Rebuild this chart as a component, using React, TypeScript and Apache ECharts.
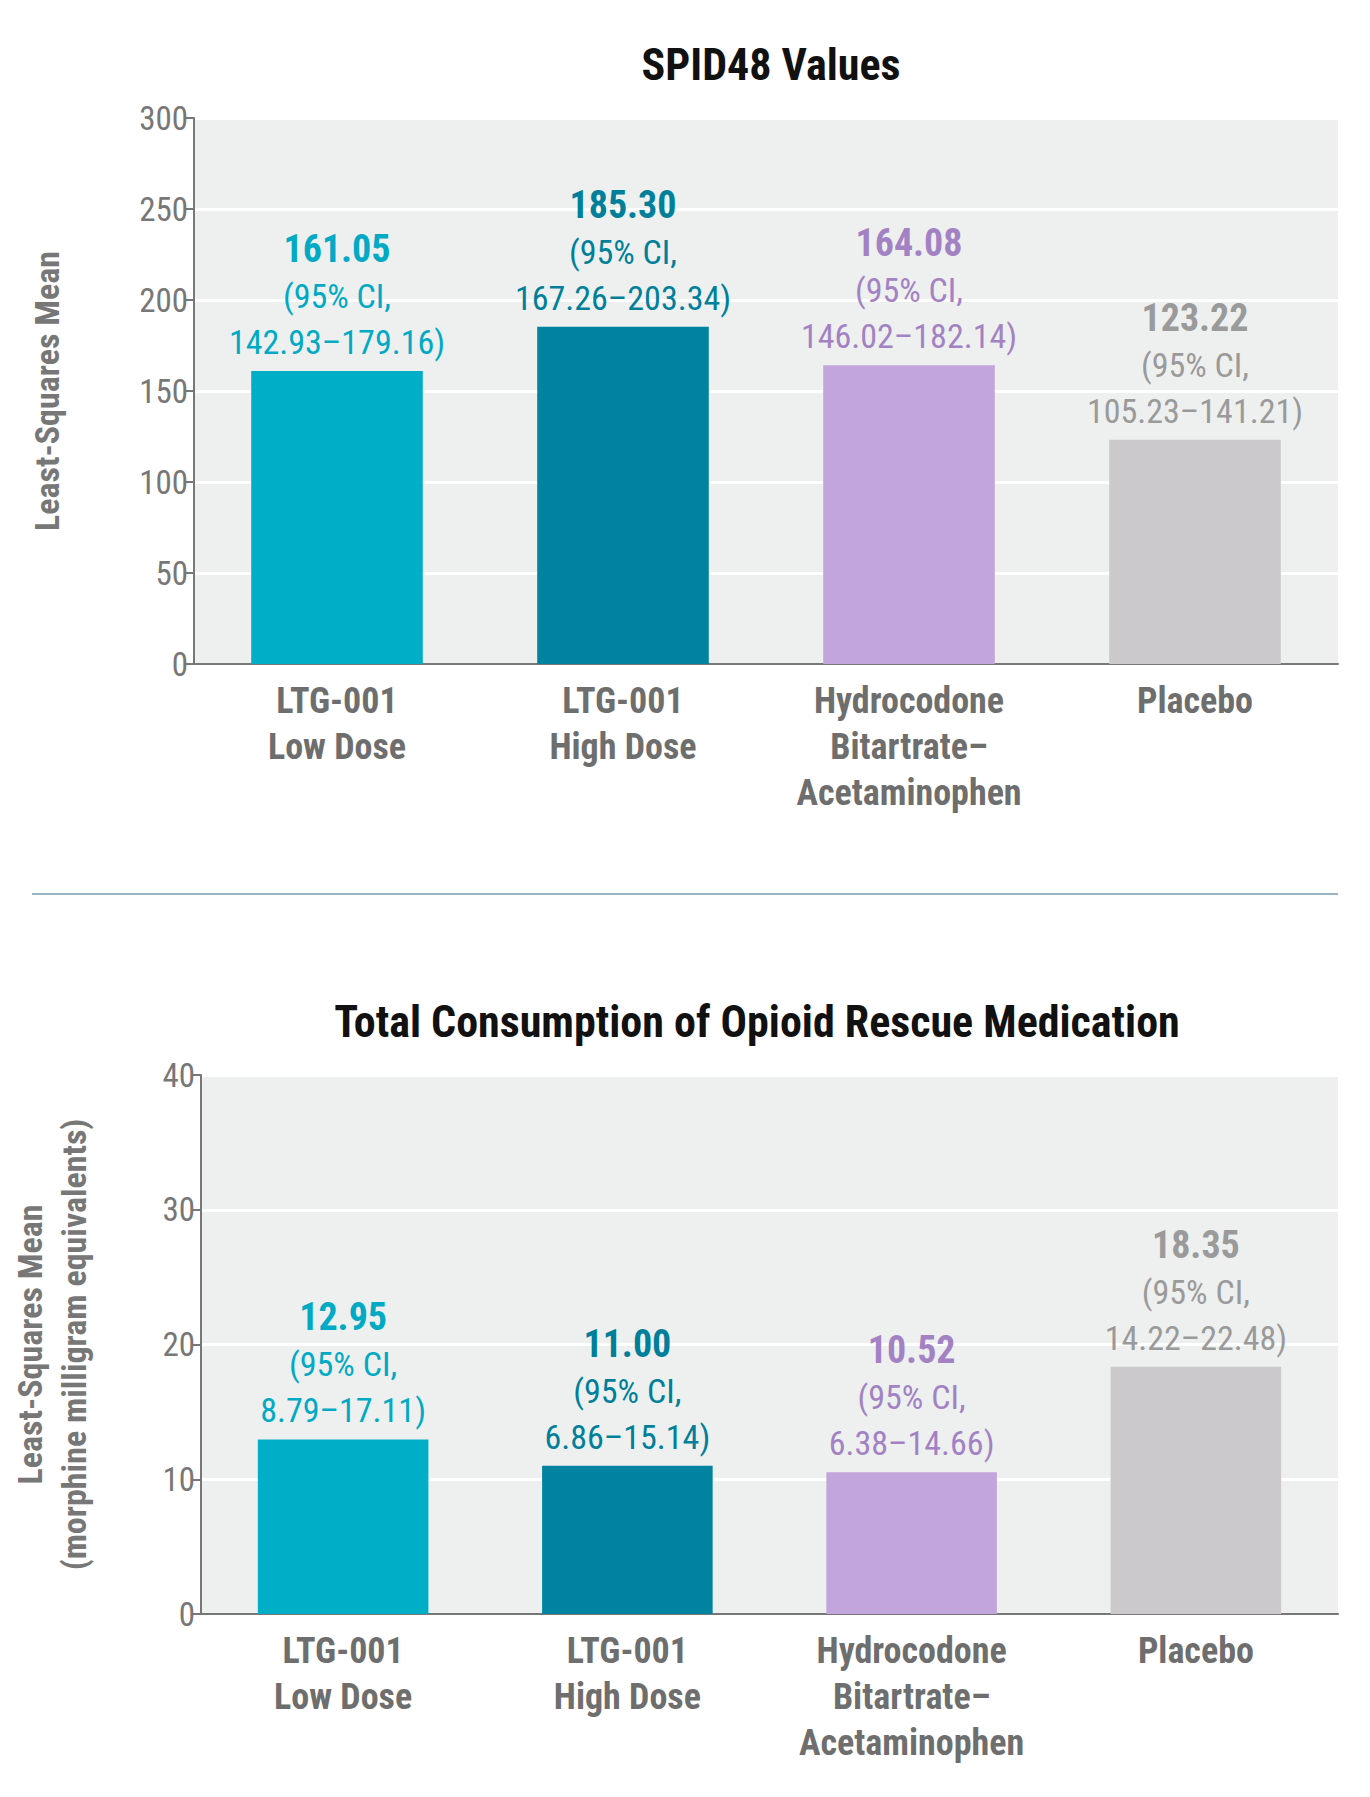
import React, { useEffect, useRef } from "react";
import * as echarts from "echarts";

const categories = ["LTG-001\nLow Dose", "LTG-001\nHigh Dose", "Hydrocodone\nBitartrate–\nAcetaminophen", "Placebo"];
const spidValues = [161.05, 185.3, 164.08, 123.22];
const spidCI = ["142.93–179.16", "167.26–203.34", "146.02–182.14", "105.23–141.21"];
const opioidValues = [12.95, 11.0, 10.52, 18.35];
const opioidCI = ["8.79–17.11", "6.86–15.14", "6.38–14.66", "14.22–22.48"];
const barColors = ["#00aec7", "#0083a0", "#c2a5db", "#cbc9cc"];
const labelColors = ["#00a9c4", "#007f9b", "#a382c4", "#9a9a9a"];

const FONT = "'Liberation Sans Narrow', 'Roboto Condensed', 'Open Sans', sans-serif";

function mkData(vals: number[], cis: string[], dec: number) {
  return vals.map((v, i) => ({
    value: v,
    itemStyle: { color: barColors[i] },
    label: {
      show: true,
      position: "top",
      distance: 6,
      formatter: `{v|${v.toFixed(dec)}}\n{c|(95% CI,}\n{c|${cis[i]})}`,
      rich: {
        v: { fontSize: 38, fontWeight: "bold", color: labelColors[i], fontFamily: FONT, lineHeight: 48 },
        c: { fontSize: 34, color: labelColors[i], fontFamily: FONT, lineHeight: 46 },
      },
    },
  }));
}

export default function App() {
  const ref = useRef<HTMLDivElement>(null);
  useEffect(() => {
    document.body.style.margin = "0";
    const chart = echarts.init(ref.current!, null, { renderer: "svg" });
    const axisLbl = { color: "#777", fontSize: 33, fontFamily: FONT };
    const catAxis = (gi: number) => ({
      type: "category",
      gridIndex: gi,
      data: categories,
      axisTick: { show: false },
      axisLine: { lineStyle: { color: "#777", width: 2 } },
      axisLabel: { color: "#6e6e6e", fontSize: 36, fontWeight: "bold", fontFamily: FONT, lineHeight: 46, margin: 14, interval: 0 },
    });
    const valAxis = (gi: number, max: number, interval: number, name: string, gap: number) => ({
      type: "value",
      gridIndex: gi,
      min: 0,
      max,
      interval,
      name,
      nameLocation: "middle",
      nameGap: gap,
      nameRotate: 90,
      nameTextStyle: { color: "#777", fontSize: 34, fontWeight: "bold", fontFamily: FONT, lineHeight: 44 },
      axisLine: { show: true, lineStyle: { color: "#777", width: 2 } },
      axisTick: { show: true, length: 10, lineStyle: { color: "#777", width: 2 } },
      axisLabel: { ...axisLbl, margin: 6 },
      splitLine: { show: true, lineStyle: { color: "#ffffff", width: 3 } },
    });
    chart.setOption({
      animation: false,
      title: [
        { text: "SPID48 Values", left: 766, top: 38, textAlign: "center", textStyle: { fontSize: 44, fontWeight: "bold", color: "#111", fontFamily: FONT } },
        { text: "Total Consumption of Opioid Rescue Medication", left: 752, top: 995, textAlign: "center", textStyle: { fontSize: 44, fontWeight: "bold", color: "#111", fontFamily: FONT } },
      ],
      grid: [
        { left: 194, right: 32, top: 118, height: 546, show: true, backgroundColor: "#eef0ef", borderWidth: 0 },
        { left: 198, right: 32, top: 1075, height: 539, show: true, backgroundColor: "#eef0ef", borderWidth: 0 },
      ],
      xAxis: [catAxis(0), catAxis(1)],
      yAxis: [
        valAxis(0, 300, 50, "Least-Squares Mean", 125),
        valAxis(1, 40, 10, "Least-Squares Mean\n(morphine milligram equivalents)", 105),
      ],
      graphic: [
        { type: "line", shape: { x1: 32, y1: 894, x2: 1338, y2: 894 }, style: { stroke: "#9bb4c4", lineWidth: 2 } },
      ],
      series: [
        { type: "bar", xAxisIndex: 0, yAxisIndex: 0, barWidth: "60%", data: mkData(spidValues, spidCI, 2) },
        { type: "bar", xAxisIndex: 1, yAxisIndex: 1, barWidth: "60%", data: mkData(opioidValues, opioidCI, 2) },
      ],
    });
    return () => chart.dispose();
  }, []);
  return <div ref={ref} style={{ width: 1370, height: 1797, background: "#fff" }} />;
}
